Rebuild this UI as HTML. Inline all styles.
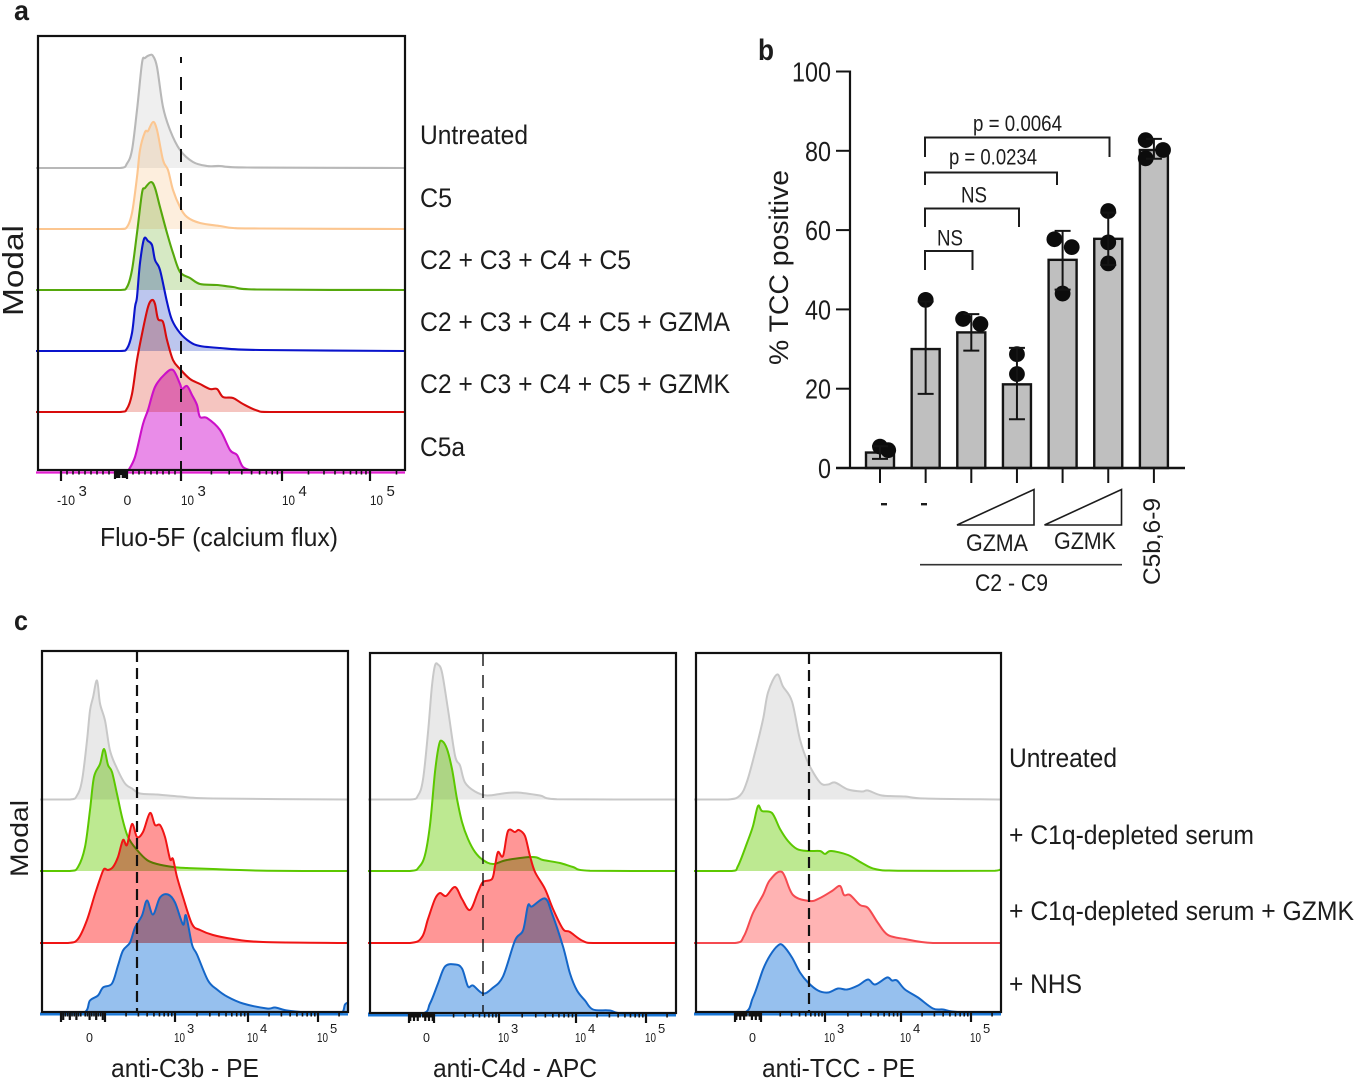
<!DOCTYPE html>
<html lang="en">
<head>
<meta charset="utf-8">
<title>Complement flow cytometry figure</title>
<style>
  html,body{margin:0;padding:0;background:#fff;}
  #figure{display:block;width:1354px;height:1080px;font-family:"Liberation Sans",Arial,sans-serif;}
  text{fill:#1c1c1c;font-family:"Liberation Sans",Arial,sans-serif;}
  .hist-fill{mix-blend-mode:multiply;stroke:none;}
  .hist-line{fill:none;stroke-linejoin:round;stroke-linecap:butt;}
</style>
</head>
<body>
<svg id="figure" xmlns="http://www.w3.org/2000/svg" width="1354" height="1080" viewBox="0 0 1354 1080">
  <rect x="0" y="0" width="1354" height="1080" fill="#fff"/>
  <g id="hist-layer"></g>
  <g id="bar-layer"></g>

  <!-- panel letters -->
  <text x="14" y="20" font-size="28" font-weight="bold" textLength="15" lengthAdjust="spacingAndGlyphs">a</text>
  <text x="758" y="60" font-size="30" font-weight="bold" textLength="16" lengthAdjust="spacingAndGlyphs">b</text>
  <text x="14" y="630" font-size="28" font-weight="bold" textLength="14" lengthAdjust="spacingAndGlyphs">c</text>

  <!-- panel a text -->
  <text transform="translate(23,316) rotate(-90)" font-size="29" textLength="91" lengthAdjust="spacingAndGlyphs">Modal</text>
  <text x="100" y="546" font-size="26" textLength="238" lengthAdjust="spacingAndGlyphs">Fluo-5F (calcium flux)</text>
  <text x="420" y="144" font-size="27" textLength="108" lengthAdjust="spacingAndGlyphs">Untreated</text>
  <text x="420" y="207" font-size="27" textLength="32" lengthAdjust="spacingAndGlyphs">C5</text>
  <text x="420" y="269" font-size="27" textLength="211" lengthAdjust="spacingAndGlyphs">C2 + C3 + C4 + C5</text>
  <text x="420" y="331" font-size="27" textLength="310" lengthAdjust="spacingAndGlyphs">C2 + C3 + C4 + C5 + GZMA</text>
  <text x="420" y="393" font-size="27" textLength="310" lengthAdjust="spacingAndGlyphs">C2 + C3 + C4 + C5 + GZMK</text>
  <text x="420" y="456" font-size="27" textLength="45" lengthAdjust="spacingAndGlyphs">C5a</text>

  <!-- panel b text -->
  <text transform="translate(788,365) rotate(-90)" font-size="27" textLength="195" lengthAdjust="spacingAndGlyphs">% TCC positive</text>
  <text x="973" y="131" font-size="22" textLength="89" lengthAdjust="spacingAndGlyphs">p = 0.0064</text>
  <text x="949" y="164.5" font-size="22" textLength="88" lengthAdjust="spacingAndGlyphs">p = 0.0234</text>
  <text x="961" y="202.5" font-size="22" textLength="26" lengthAdjust="spacingAndGlyphs">NS</text>
  <text x="937" y="245.5" font-size="22" textLength="26" lengthAdjust="spacingAndGlyphs">NS</text>
  <g fill="none" stroke="#1c1c1c" stroke-width="2">
    <path d="M925 157V137.5H1109.5V157"/>
    <path d="M925 185V172.5H1057V185"/>
    <path d="M925 227V208.5H1019V227"/>
    <path d="M925 270V251H972.5V270"/>
  </g>
  <rect x="881" y="503" width="6" height="2.4" fill="#1c1c1c"/>
  <rect x="921" y="503" width="6" height="2.4" fill="#1c1c1c"/>
  <polygon points="957,525 1034,489.5 1034,525" fill="#fff" stroke="#1c1c1c" stroke-width="1.6"/>
  <polygon points="1044.5,525 1121.5,489.5 1121.5,525" fill="#fff" stroke="#1c1c1c" stroke-width="1.6"/>
  <text x="966" y="551" font-size="24" textLength="62" lengthAdjust="spacingAndGlyphs">GZMA</text>
  <text x="1054" y="549" font-size="24" textLength="62" lengthAdjust="spacingAndGlyphs">GZMK</text>
  <line x1="920" y1="564.7" x2="1122" y2="564.7" stroke="#333" stroke-width="1.6"/>
  <text x="975" y="591" font-size="24" textLength="73" lengthAdjust="spacingAndGlyphs">C2 - C9</text>
  <text transform="translate(1160,585) rotate(-90)" font-size="24" textLength="87" lengthAdjust="spacingAndGlyphs">C5b,6-9</text>

  <!-- panel c text -->
  <text transform="translate(28,877) rotate(-90)" font-size="25" textLength="77" lengthAdjust="spacingAndGlyphs">Modal</text>
  <text x="111" y="1077" font-size="26" textLength="148" lengthAdjust="spacingAndGlyphs">anti-C3b - PE</text>
  <text x="433" y="1077" font-size="26" textLength="164" lengthAdjust="spacingAndGlyphs">anti-C4d - APC</text>
  <text x="762" y="1077" font-size="26" textLength="153" lengthAdjust="spacingAndGlyphs">anti-TCC - PE</text>
  <text x="1009" y="767" font-size="27" textLength="108" lengthAdjust="spacingAndGlyphs">Untreated</text>
  <text x="1009" y="844" font-size="27" textLength="245" lengthAdjust="spacingAndGlyphs">+ C1q-depleted serum</text>
  <text x="1009" y="920" font-size="27" textLength="345" lengthAdjust="spacingAndGlyphs">+ C1q-depleted serum + GZMK</text>
  <text x="1009" y="993" font-size="27" textLength="73" lengthAdjust="spacingAndGlyphs">+ NHS</text>
</svg>

<script>
/* ---------- Panel a histograms: channel (display units) and event height ---------- */
const aUntreatedChannel=[-2,82,89,94,99,104,107,112,115,119,125,132,142,155,169,182,209,367];
const aUntreatedCount=[0,0,4.5,18,58,105,110,113,112,101,61,38,18,6,2,2,0.5,0];
const aC5Channel=[-2,82,89,94,99,102,107,110,115,119,125,130,135,142,149,162,182,195,222,367];
const aC5Count=[0,0,2,16,52,79,97,98,107,99,69,59,39,22,12,6,3,1,0.5,0];
const aC2C5Channel=[-2,82,89,94,99,104,107,113,117,122,129,135,142,152,162,179,195,219,367];
const aC2C5Count=[0,0,3,20,57,97,102,108,102,83,57,37,18,12,6,5,3,0.5,0];
const aGzmaChannel=[-2,82,89,94,97,99,102,106,110,114,117,122,129,134,142,152,162,182,222,367];
const aGzmaCount=[0,0,2.5,18,44,54,88,112,110,106,91,81,49,31,18,9,5,3,1,0];
const aGzmkChannel=[-2,82,89,94,99,104,110,114,117,120,125,129,135,142,152,162,172,179,185,195,205,219,232,367];
const aGzmkCount=[0,0,3.3,18,52,78,105,112,108,93,90,72,52,43,33,28,23,23,15,14,8,1.5,0,0];
const aC5aChannel=[90,97,105,110,117,127,135,142,144,149,154,159,162,169,182,192,199,205,215];
const aC5aCount=[0,14,47,61,84,97,101,87,82,85,76,66,54,53,41,21,16,4,0];

/* ---------- Panel c, anti-C3b ---------- */
const c3bUntreatedChannel=[-2,28,35,40,45,48,51,55,58,63,68,75,83,90,98,115,138,171,306];
const c3bUntreatedCount=[0,0,4,19,59,89,102,119,96,79,49,31,16,11,6,5,3,1,0];
const c3bC1qChannel=[-2,28,36,43,48,52,58,62,66,70,75,80,86,95,105,115,131,145,171,225,306];
const c3bC1qCount=[0,0,4,24,61,94,107,122,106,99,77,54,34,21,11,7,4,3,2,0.3,0];
const c3bGzmkChannel=[-2,26,36,45,53,58,62,66,71,76,81,85,90,95,101,108,113,118,123,128,131,135,141,150,158,171,191,221,306];
const c3bGzmkCount=[0,0,4,23,49,64,74,73,76,86,103,98,119,106,111,130,118,118,106,84,84,66,46,19,13,8,4,1,0];
const c3bNhsChannel=[-2,40,48,56,61,70,76,81,88,93,100,105,111,118,126,133,141,144,150,155,166,175,185,201,225,233,245,265,298,303,306];
const c3bNhsCount=[0,0,13,18,26,30,48,63,71,86,98,113,99,116,119,111,89,98,69,59,33,24,17,10,5,6,3,1,0,9,11];

/* ---------- Panel c, anti-C4d ---------- */
const c4dUntreatedChannel=[-2,40,48,53,58,62,65,68,72,78,85,90,95,105,117,133,147,170,187,306];
const c4dUntreatedCount=[0,0,4,20,67,114,134,135,127,90,44,34,17,8,4,6,7,4,0.3,0];
const c4dC1qChannel=[-2,40,49,55,60,65,69,72,77,82,87,92,98,105,113,123,137,163,173,190,203,220,306];
const c4dC1qCount=[0,0,4,16,46,99,126,130,122,102,72,49,32,19,11,7,11,14,11,8,4,0.3,0];
const c4dGzmkChannel=[-2,40,52,58,65,70,76,85,92,100,108,113,122,125,128,133,138,145,149,155,160,165,175,183,193,200,213,227,306];
const c4dGzmkCount=[0,0,6,24,44,50,47,56,44,33,51,61,64,77,91,87,112,111,113,107,87,71,54,34,14,11,2,0,0];
const c4dNhsChannel=[-2,52,60,68,75,85,92,98,103,113,122,133,145,153,158,162,175,182,193,200,207,215,223,240,253,306];
const c4dNhsCount=[0,0,10,30,47,49,45,27,28,20,25,37,73,83,108,107,115,100,67,40,23,13,4,3,0,0];

/* ---------- Panel c, anti-TCC ---------- */
const tccUntreatedChannel=[-2,32,44,51,59,67,72,81,87,96,104,112,124,132,139,152,166,172,186,209,229,305];
const tccUntreatedCount=[0,0,4,18,47,80,107,125,113,98,60,37,17,15,17,10,8,9,4,3,1,0];
const tccC1qChannel=[-2,36,42,51,57,62,66,76,84,92,101,112,124,129,135,152,166,179,202,299,305];
const tccC1qCount=[0,0,5,28,45,65,60,58,42,30,22,20,20,17,20,16,8,2,0.3,0.3,2];
const tccGzmkChannel=[-2,39,48,57,67,74,86,97,114,124,136,144,148,154,164,172,182,192,209,237,305];
const tccGzmkCount=[0,0,7,30,48,63,71,48,42,45,52,57,48,48,38,35,20,8,4,0,0];
const tccNhsChannel=[-2,46,57,67,74,82,87,96,104,112,122,132,142,151,162,172,179,191,196,201,209,222,237,247,256,279,305];
const tccNhsCount=[0,0,16,44,58,68,68,56,41,31,23,21,25,24,28,34,29,36,33,33,24,16,5,4,2,0.3,0];

/* ---------- Flow axis ticks (fluorescence values) ---------- */
const flowMajorTicks=[-1000,1000,10000,100000];
const flowTickLabels=['-10','10','10','10'];
const flowTickExponents=['3','3','4','5'];
const flowHundreds=[100,200,300,400,500,600,700,800,900];
const flowTens=[10,20,30,40,50,60,70,80,90];
const flowDecadeMinors=[2000,3000,4000,5000,6000,7000,8000,9000,20000,30000,40000,50000,60000,70000,80000,90000,200000];
const cMajorTicks=[-100,100,1000,10000,100000];
const cTickLabels=['10','10','10'];
const cLabelTicks=[1000,10000,100000];
const cTickExponents=['3','4','5'];

/* ---------- Panel b bar chart ---------- */
const barCategories=['untreated','c2-c9','gzma-low','gzma-high','gzmk-low','gzmk-high','c5b-6-9'];
const barMeans=[3.9,30,34.2,21.1,52.5,57.8,80.2];
const barErrorLow=[2.3,18.7,29.6,12.3,45,51.2,78];
const barErrorHigh=[5.5,42,38.8,30.3,59.8,64.4,83];
const barPoints=[[5.4,4.5],[42.4],[37.6,36.3],[28.7,23.7],[57.7,55.7,44],[64.8,56.9,51.6],[82.7,80.2,78.1]];
const barPointJitter=[[0,0.18],[0],[-0.18,0.2],[0,0],[-0.18,0.2,0],[0,0,0],[-0.18,0.2,-0.18]];
const yTickValues=[0,20,40,60,80,100];

const NS='http://www.w3.org/2000/svg';
const histLayer=document.getElementById('hist-layer');
const barLayer=document.getElementById('bar-layer');

function mk(parent,tag,attrs){
  const el=document.createElementNS(NS,tag);
  for(const k in attrs){el.setAttribute(k,attrs[k]);}
  parent.appendChild(el);
  return el;
}

function smoothPath(pts,base){
  let d='M'+pts[0][0].toFixed(1)+' '+pts[0][1].toFixed(1);
  for(let i=0;i<pts.length-1;i++){
    const p0=pts[Math.max(i-1,0)],p1=pts[i],p2=pts[i+1],p3=pts[Math.min(i+2,pts.length-1)];
    const c1x=p1[0]+(p2[0]-p0[0])/6,c1y=Math.min(base,p1[1]+(p2[1]-p0[1])/6);
    const c2x=p2[0]-(p3[0]-p1[0])/6,c2y=Math.min(base,p2[1]-(p3[1]-p1[1])/6);
    d+='C'+Math.min(c1x,p2[0]).toFixed(1)+' '+c1y.toFixed(1)+' '+Math.max(c2x,p1[0]).toFixed(1)+' '+c2y.toFixed(1)+' '+p2[0].toFixed(1)+' '+p2[1].toFixed(1);
  }
  return d;
}

function drawHistogram(panel,series){
  const xS=c=>panel.left+c*panel.width/panel.channels;
  const yS=v=>series.base-v;
  const pts=series.channel.map((c,i)=>[xS(c),yS(series.count[i])]);
  const d=smoothPath(pts,series.base);
  const fill=mk(histLayer,'path',{d:d+'L'+xS(series.channel[series.channel.length-1]).toFixed(1)+' '+series.base+'L'+xS(series.channel[0]).toFixed(1)+' '+series.base+'Z',fill:series.fill,class:'hist-fill'});
  
  
  const line=mk(histLayer,'path',{d:d,stroke:series.line,'stroke-width':panel.lineWidth,class:'hist-line'});
  
  
}

function drawFrame(panel){
  const r=mk(histLayer,'rect',{x:panel.left,y:panel.top,width:panel.width,height:panel.bottom-panel.top,fill:'none',stroke:'#111','stroke-width':2.2});
  
  
  const g=mk(histLayer,'line',{x1:panel.gate,y1:panel.gateTop,x2:panel.gate,y2:panel.bottom,stroke:'#111','stroke-width':panel.gateWidth,'stroke-dasharray':panel.gateDash});
  
  
  const ax=mk(histLayer,'line',{x1:panel.left-2,y1:panel.axisY,x2:panel.left+panel.width,y2:panel.axisY,stroke:panel.axisColor,'stroke-width':2.2});
  
  
}

function makeFlowScale(p){
  return function(v){
    const a=Math.abs(v);
    if(a<=p.linLimit){return p.zero+v*p.linSlope;}
    if(a<=1000){return p.tick2+(p.tick3-p.tick2)*Math.log10(a/100);}
    if(a<=10000){return p.tick3+(p.tick4-p.tick3)*Math.log10(a/1000);}
    return p.tick4+(p.tick5-p.tick4)*Math.log10(a/10000);
  };
}

function drawTick(panel,x,len){
  const t=mk(histLayer,'line',{x1:x,y1:panel.bottom,x2:x,y2:panel.bottom+len,stroke:'#111','stroke-width':len>6?2.2:1.6});
  
  
}

function drawTickLabel(panel,x,base,exp){
  const t=mk(histLayer,'text',{x:x,y:panel.labelY,'font-size':panel.labelSize});
  t.textContent=base;
  
  
  if(exp){
    const w=(base.length>2?18:panel.tenWidth);
    t.setAttribute('textLength',w);
    t.setAttribute('lengthAdjust','spacingAndGlyphs');
    const s=mk(histLayer,'text',{x:x+w+panel.supGap,y:panel.labelY-panel.supRise,'font-size':panel.supSize});
    s.textContent=exp;
    
    
  }
}

/* panel a */
const panelA={name:'panel-a',left:38,width:367,top:36,bottom:470,channels:367,lineWidth:2.1,gate:181,gateTop:57,gateWidth:2,gateDash:'6 14 13 11 13 11 13 11 13 11 13 11 13 11 13 11 13 11 13 11 13 11 13 11 13 11 13 11 13 11 13 11 13 11 13 11',axisY:472.5,axisColor:'#e21fd0',labelY:505,labelSize:14,tenWidth:13,supGap:3.5,supRise:9,supSize:15};
const aSeries=[
 {name:'untreated',channel:aUntreatedChannel,count:aUntreatedCount,base:168,fill:'#efefef',line:'#b8b8b8'},
 {name:'c5',channel:aC5Channel,count:aC5Count,base:229,fill:'#fdeedd',line:'#fcc690'},
 {name:'c2-c5',channel:aC2C5Channel,count:aC2C5Count,base:290,fill:'#d6e9c4',line:'#55a80c'},
 {name:'gzma',channel:aGzmaChannel,count:aGzmaCount,base:351,fill:'#bcc6ee',line:'#0a14cc'},
 {name:'gzmk',channel:aGzmkChannel,count:aGzmkCount,base:412,fill:'#f5c5c0',line:'#d80c0c'},
 {name:'c5a',channel:aC5aChannel,count:aC5aCount,base:471,fill:'#e98ce8',line:'#cc10c8'}
];
aSeries.forEach(s=>drawHistogram(panelA,s));
drawFrame(panelA);
const aScale=makeFlowScale({zero:121,linLimit:1000,linSlope:0.06,tick3:181,tick4:282,tick5:370,tick2:0});
flowMajorTicks.forEach(v=>drawTick(panelA,aScale(v),11));
flowHundreds.forEach(v=>{drawTick(panelA,aScale(v),v===100?9:4.5);drawTick(panelA,aScale(-v),v===100?9:4.5);});
flowTens.forEach(v=>{drawTick(panelA,aScale(v),v%30===0?8:5);drawTick(panelA,aScale(-v),v%30===0?8:5);});
flowDecadeMinors.forEach(v=>drawTick(panelA,aScale(v),4.5));
flowMajorTicks.forEach((v,i)=>{drawTickLabel(panelA,aScale(v)+(v<0?-4:0),flowTickLabels[i],flowTickExponents[i]);});
drawTickLabel(panelA,123.5,'0','');

/* panels c */
const cPanels=[
 {name:'panel-c-c3b',left:42,width:306,top:651,bottom:1012,gate:137,gateWidth:2.2,gateDash:'11 6',zero:83,span:22,t3:175,t4:248,t5:318,zeroLabel:86,
  series:[[c3bUntreatedChannel,c3bUntreatedCount],[c3bC1qChannel,c3bC1qCount],[c3bGzmkChannel,c3bGzmkCount],[c3bNhsChannel,c3bNhsCount]]},
 {name:'panel-c-c4d',left:370,width:306,top:653,bottom:1013,gate:483,gateWidth:1.4,gateDash:'13 9',zero:421.5,span:12.5,t3:499,t4:576,t5:646,zeroLabel:423,
  series:[[c4dUntreatedChannel,c4dUntreatedCount],[c4dC1qChannel,c4dC1qCount],[c4dGzmkChannel,c4dGzmkCount],[c4dNhsChannel,c4dNhsCount]]},
 {name:'panel-c-tcc',left:696,width:305,top:653,bottom:1012,gate:809,gateWidth:2.2,gateDash:'11 6',zero:748,span:13,t3:825,t4:901,t5:971,zeroLabel:749,
  series:[[tccUntreatedChannel,tccUntreatedCount],[tccC1qChannel,tccC1qCount],[tccGzmkChannel,tccGzmkCount],[tccNhsChannel,tccNhsCount]]}
];
const cSeriesNames=['untreated','c1q-depleted','c1q-depleted-gzmk','nhs'];
const cSeriesBases=[799.5,871,943,1013.5];
const cSeriesFills=['#e9e9e9','#bde991','#ff9696','#96c0ee'];
const cSeriesLines=['#c8c8c8','#5cc800','#f01414','#1466c8'];
cPanels.forEach(p=>{
  const panel={name:p.name,left:p.left,width:p.width,top:p.top,bottom:p.bottom,channels:p.width,lineWidth:2,gate:p.gate,gateTop:p.top,gateWidth:p.gateWidth,gateDash:p.gateDash,axisY:p.bottom+2.4,axisColor:'#1a78d8',labelY:1042,labelSize:12.5,tenWidth:11,supGap:2,supRise:9,supSize:13};
  p.series.forEach((arr,i)=>{
    const isTcc=p.name==='panel-c-tcc'&&i===2;
    drawHistogram(panel,{name:cSeriesNames[i],channel:arr[0],count:arr[1],base:cSeriesBases[i],fill:isTcc?'#ffb3b3':cSeriesFills[i],line:isTcc?'#f54a50':cSeriesLines[i]});
  });
  drawFrame(panel);
  const scale=makeFlowScale({zero:p.zero,linLimit:100,linSlope:p.span/100,tick2:p.zero+p.span,tick3:p.t3,tick4:p.t4,tick5:p.t5});
  const scaleNeg=v=>p.zero-p.span*v/100;
  cMajorTicks.forEach(v=>drawTick(panel,v<0?scaleNeg(-v):scale(v),10));
  flowTens.forEach(v=>{drawTick(panel,scale(v),v%30===0?8:4.5);drawTick(panel,scaleNeg(v),v%30===0?8:4.5);});
  flowHundreds.slice(1).forEach(v=>{drawTick(panel,scale(v),4.5);});
  flowDecadeMinors.forEach(v=>drawTick(panel,scale(v),4.5));
  cLabelTicks.forEach((v,i)=>drawTickLabel(panel,scale(v)-1,cTickLabels[i],cTickExponents[i]));
  drawTickLabel(panel,p.zeroLabel,'0','');
});

/* panel b */
const yValue=v=>468-v*3.965;
const xBar=i=>880+i*45.65;
const barW=28;
const dark='#141414';

barCategories.forEach((cat,i)=>{
  const r=mk(barLayer,'rect',{x:xBar(i)-barW/2,y:yValue(barMeans[i]),width:barW,height:468-yValue(barMeans[i]),fill:'#bfbfbf',stroke:dark,'stroke-width':2.4});
  
  
});
barCategories.forEach((cat,i)=>{
  barPoints[i].forEach((v,j)=>{
    const c=mk(barLayer,'circle',{cx:xBar(i)+barPointJitter[i][j]*45.65,cy:yValue(v),r:7.9,fill:'#0c0c0c'});
    
    
  });
  const e=mk(barLayer,'path',{d:'M'+(xBar(i)-8)+' '+yValue(barErrorHigh[i])+'H'+(xBar(i)+8)+'M'+xBar(i)+' '+yValue(barErrorHigh[i])+'V'+yValue(barErrorLow[i])+'M'+(xBar(i)-8)+' '+yValue(barErrorLow[i])+'H'+(xBar(i)+8),fill:'none',stroke:dark,'stroke-width':2});
  
  
  const t=mk(barLayer,'line',{x1:xBar(i),y1:468,x2:xBar(i),y2:483,stroke:dark,'stroke-width':2});
  
  
});

const yAxis=mk(barLayer,'line',{x1:850,y1:yValue(100)-1,x2:850,y2:469,stroke:dark,'stroke-width':2.2});


const xAxis=mk(barLayer,'line',{x1:836,y1:468,x2:1185,y2:468,stroke:dark,'stroke-width':2.4});



yTickValues.forEach(v=>{
  const t=mk(barLayer,'line',{x1:836,y1:yValue(v),x2:850,y2:yValue(v),stroke:dark,'stroke-width':2});
  
  
  const s=String(v);
  const l=mk(barLayer,'text',{x:831,y:yValue(v)+10,'font-size':27.5,'text-anchor':'end',textLength:s.length*13,lengthAdjust:'spacingAndGlyphs'});
  l.textContent=s;
  
  
});
</script>
</body>
</html>
